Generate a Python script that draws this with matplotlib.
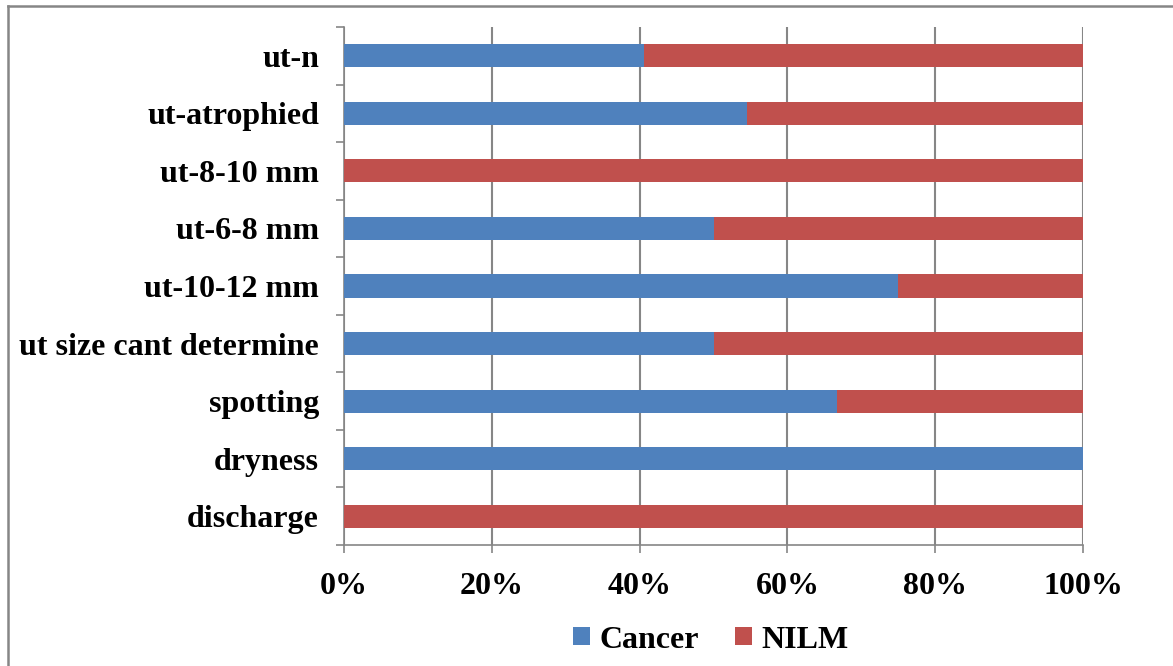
import matplotlib
matplotlib.use("Agg")
import matplotlib.pyplot as plt
from matplotlib.lines import Line2D
import numpy as np

categories = ["discharge", "dryness", "spotting", "ut size cant determine",
              "ut-10-12 mm", "ut-6-8 mm", "ut-8-10 mm", "ut-atrophied", "ut-n"]
cancer = [0.0, 100.0, 66.7, 50.0, 75.0, 50.0, 0.0, 54.6, 40.6]
nilm = [100 - c for c in cancer]
xticks = [0, 20, 40, 60, 80, 100]
xticklabels = ["0%", "20%", "40%", "60%", "80%", "100%"]

plt.rcParams['font.family'] = ['Liberation Serif', 'DejaVu Serif']
plt.rcParams['font.weight'] = 'bold'

fig = plt.figure(figsize=(11.73, 6.66), dpi=100)
ax = fig.add_axes([344/1173, 1-545/666, (1083-344)/1173, (545-27)/666])

y = np.arange(len(categories))
blue = '#4F81BD'
red = '#C0504D'
ax.barh(y, cancer, height=0.4, color=blue, label='Cancer', zorder=3)
ax.barh(y, nilm, left=cancer, height=0.4, color=red, label='NILM', zorder=3)

ax.set_xlim(0, 100)
ax.set_ylim(-0.5, len(categories) - 0.5)
ax.set_xticks(xticks)
ax.set_xticklabels(xticklabels, fontsize=23, fontweight='bold')
ax.set_yticks(y)
ax.set_yticklabels(categories, fontsize=23, fontweight='bold')
ax.set_yticks(np.arange(-0.5, len(categories), 1), minor=True)
ax.tick_params(axis='y', which='major', length=0, pad=18)
ax.tick_params(axis='y', which='minor', length=6, color='#868686', width=1.2)
ax.tick_params(axis='x', which='major', length=6, color='#868686', width=1.2, pad=13.5)
ax.grid(axis='x', color='#868686', linewidth=1.5, zorder=0)
for s in ['top', 'right']:
    ax.spines[s].set_visible(False)
for s in ['left', 'bottom']:
    ax.spines[s].set_color('#868686')
    ax.spines[s].set_linewidth(1.2)

leg = fig.legend(loc='center', bbox_to_anchor=(0.606, 1-640/666), ncol=2, frameon=False,
                 prop={'size': 23, 'weight': 'bold'}, handlelength=0.52, handleheight=0.52,
                 handletextpad=0.3, columnspacing=1.15)

# outer chart frame: only top and left edges visible (image cropped)
fx = 7.5/1173
fy = 1 - 6/666
fig.add_artist(Line2D([fx, 1.0], [fy, fy], transform=fig.transFigure,
                      color='#868686', linewidth=1.8))
fig.add_artist(Line2D([fx, fx], [0.0, fy], transform=fig.transFigure,
                      color='#868686', linewidth=1.8))

fig.savefig('out.png', dpi=100)
